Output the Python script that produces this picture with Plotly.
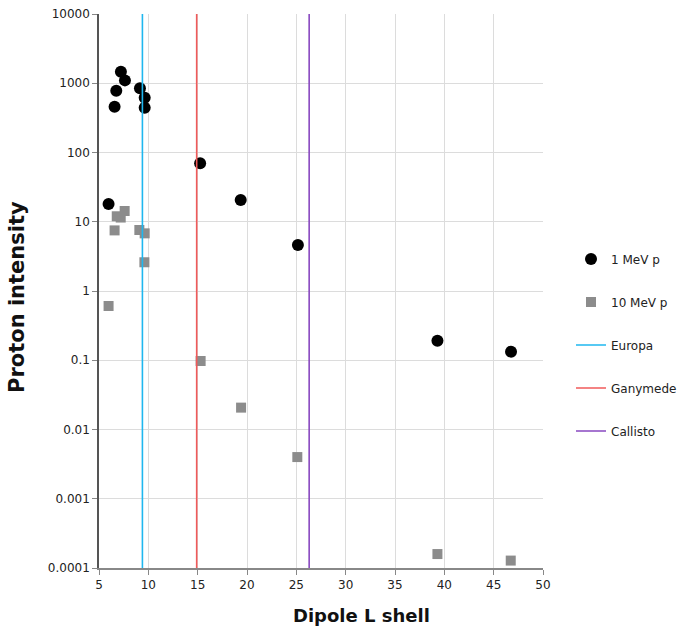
import plotly.graph_objects as go

# 1 MeV protons
l_1mev = [5.97, 6.58, 6.75, 7.22, 7.63, 9.15, 9.63, 9.63, 15.25, 19.36, 25.16, 39.3, 46.76]
i_1mev = [18, 458, 780, 1470, 1100, 850, 618, 444, 70, 20.6, 4.6, 0.191, 0.133]

# 10 MeV protons
l_10mev = [5.97, 6.58, 6.8, 7.2, 7.6, 9.09, 9.63, 9.6, 15.3, 19.4, 25.1, 39.3, 46.73]
i_10mev = [0.607, 7.5, 12, 11.5, 14.3, 7.6, 6.8, 2.6, 0.0975, 0.0207, 0.004, 0.000159, 0.000128]

moons = ["Europa", "Ganymede", "Callisto"]
moon_l = [9.4, 14.9, 26.3]
moon_colors = ["#1fb7ef", "#f05a5a", "#8848c0"]

y_range = [0.0001, 10000]
y_ticks = [10000, 1000, 100, 10, 1, 0.1, 0.01, 0.001, 0.0001]
y_ticktext = ["10000", "1000", "100", "10", "1", "0.1", "0.01", "0.001", "0.0001"]
x_ticks = [5, 10, 15, 20, 25, 30, 35, 40, 45, 50]

W, H = 679, 628
ML, MR, MT, MB = 99, 136, 14, 60
pw = W - ML - MR
ph = H - MT - MB


def px_to_paper(xp, yp):
    return (xp - ML) / pw, (H - MB - yp) / ph


fig = go.Figure()
fig.add_trace(go.Scatter(x=l_1mev, y=i_1mev, mode="markers", name="1 MeV p",
                         legendgroup="a",
                         marker=dict(symbol="circle", size=12, color="black")))
fig.add_trace(go.Scatter(x=l_10mev, y=i_10mev, mode="markers", name="10 MeV p",
                         legendgroup="b",
                         marker=dict(symbol="square", size=10, color="#8c8c8c")))
for i, (name, lv, c) in enumerate(zip(moons, moon_l, moon_colors)):
    fig.add_trace(go.Scatter(x=[lv, lv], y=y_range, mode="lines", name=name,
                             legendgroup="m%d" % i,
                             line=dict(color=c, width=1.6)))

xt, yt = px_to_paper(361, 615)
xy, yy = px_to_paper(17, 297)

fig.update_layout(
    width=W, height=H,
    paper_bgcolor="white", plot_bgcolor="white",
    margin=dict(l=ML, r=MR, t=MT, b=MB),
    font=dict(family="DejaVu Sans", size=12, color="#222"),
    showlegend=True,
    legend=dict(xref="container", yref="container",
                x=571 / W, y=(H - 345) / H, xanchor="left", yanchor="middle",
                tracegroupgap=24, font=dict(size=12, color="#222"),
                itemwidth=30),
    xaxis=dict(range=[5, 50], tickvals=x_ticks, showgrid=True, gridcolor="#dcdcdc",
               gridwidth=1, showline=True, linecolor="#888", linewidth=1.5,
               ticks="outside", ticklen=5, tickcolor="#888", zeroline=False,
               automargin=False, tickfont=dict(size=12, color="#222")),
    yaxis=dict(type="log", range=[-4, 4], tickvals=y_ticks, ticktext=y_ticktext,
               showgrid=True, gridcolor="#dcdcdc", gridwidth=1,
               showline=True, linecolor="#555", linewidth=1.5,
               ticks="outside", ticklen=5, tickcolor="#888", zeroline=False,
               automargin=False, tickfont=dict(size=12, color="#222")),
    annotations=[
        dict(text="<b>Dipole L shell</b>", x=xt, y=yt, xref="paper", yref="paper",
             xanchor="center", yanchor="middle",
             showarrow=False, font=dict(size=18, color="#111")),
        dict(text="<b>Proton intensity</b>", x=xy, y=yy, xref="paper", yref="paper",
             xanchor="center", yanchor="middle", textangle=-90,
             showarrow=False, font=dict(size=21, color="#111")),
    ],
)

fig.write_html("out.html",
               config={"displayModeBar": False},
               post_script="document.body.style.margin='0';document.body.style.padding='0';")
